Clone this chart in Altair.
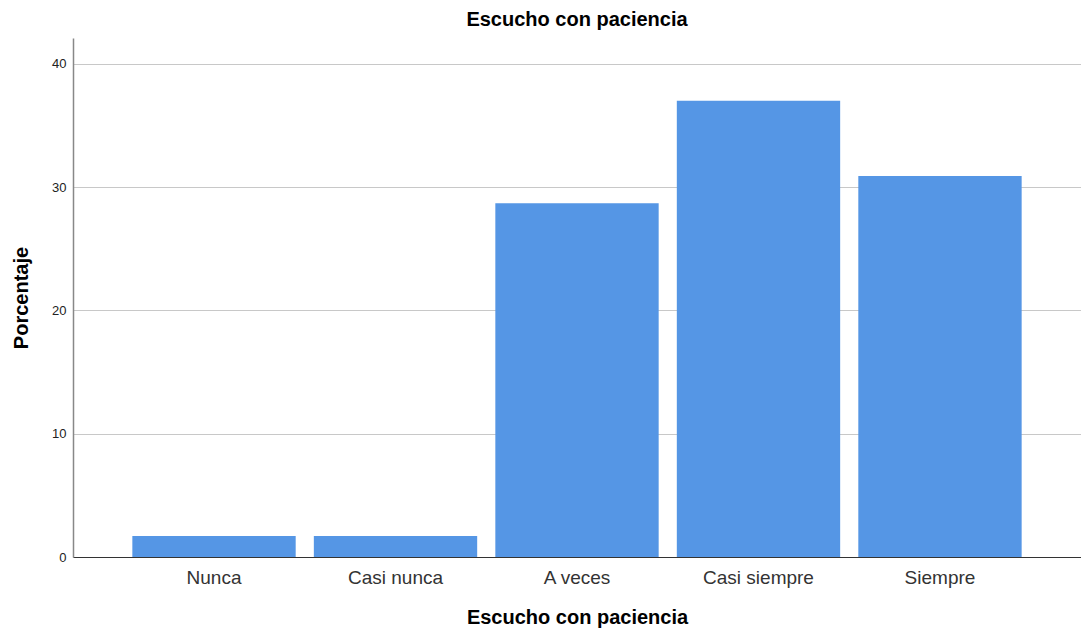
import altair as alt
import pandas as pd

categorias = ["Nunca", "Casi nunca", "A veces", "Casi siempre", "Siempre"]
porcentajes = [1.7, 1.7, 28.7, 37.0, 30.9]

df = pd.DataFrame({"cat": categorias, "pct": porcentajes})

chart = alt.Chart(df).mark_bar(color="#5596E5").encode(
    x=alt.X("cat:N", sort=categorias,
            scale=alt.Scale(paddingInner=0.1, paddingOuter=0.327),
            axis=alt.Axis(title="Escucho con paciencia", labelAngle=0, ticks=False,
                          labelFont="Liberation Sans", labelFontSize=19,
                          labelColor="#333", labelPadding=11,
                          titleFont="Liberation Sans", titleFontSize=20,
                          titleFontWeight="bold", titleColor="#000", titlePadding=20,
                          domainColor="#333", domainWidth=1, grid=False)),
    y=alt.Y("pct:Q", scale=alt.Scale(domain=[0, 42.1], nice=False),
            axis=alt.Axis(title="Porcentaje", values=[0, 10, 20, 30, 40], ticks=False,
                          labelFont="Liberation Sans", labelFontSize=13,
                          labelColor="#222", labelPadding=7,
                          titleFont="Liberation Sans", titleFontSize=20,
                          titleFontWeight="bold", titleColor="#000", titlePadding=20,
                          domainColor="#888", domainWidth=1.5,
                          grid=True, gridColor="#c8c8c8", gridWidth=1.2)),
).properties(
    width=1008,
    height=519,
    title=alt.TitleParams("Escucho con paciencia", font="Liberation Sans", fontSize=20,
                          fontWeight="bold", color="#000", offset=8),
    autosize=alt.AutoSizeParams(type="none"),
    padding={"left": 65, "top": 30, "right": 0, "bottom": 74},
).configure_view(stroke=None)

chart.save("out.html", embed_options={"renderer": "svg", "actions": False})
